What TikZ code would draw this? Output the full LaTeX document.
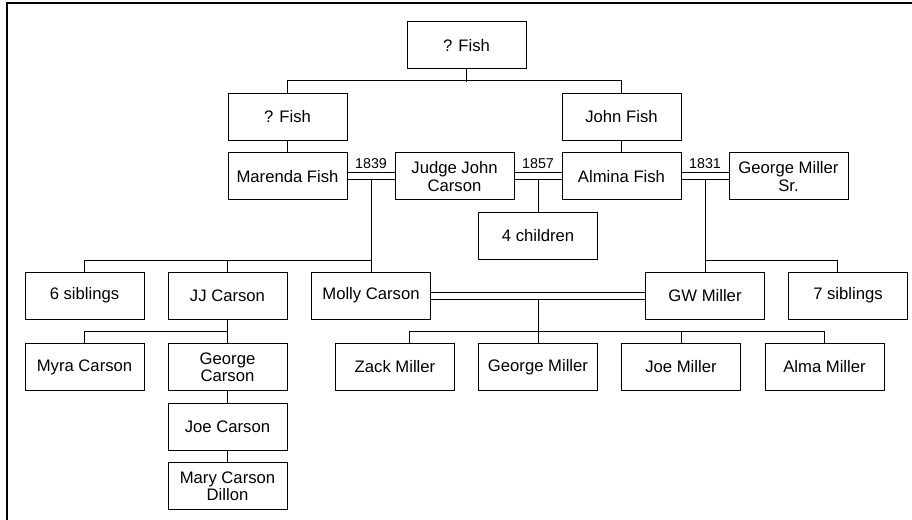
\documentclass[tikz,border=0pt]{standalone}
\usepackage{fontspec}
\setmainfont{Liberation Sans}
\usetikzlibrary{backgrounds}
\begin{document}
\begin{tikzpicture}[x=0.75pt, y=-0.75pt,
	pessoa/.style={draw, line width=0.75pt, fill=white, minimum width=89.25pt, minimum height=35.25pt, inner sep=1pt, align=center, font=\fontsize{12.5}{13}\selectfont},
	casal/.style={draw, line width=0.75pt, double, double distance=4.5pt},
	ano/.style={inner sep=0pt, font=\fontsize{10.7}{12}\selectfont},
	liga/.style={draw, line width=0.75pt}]
	\useasboundingbox (0,0) rectangle (912,520);

	%moldura
	\draw[line width=1.5pt] (6.5,520) -- (6.5,3.5) -- (912,3.5);

	%topo
	\node[pessoa] (avo) at (466.5,45.5) {? Fish};
	\node[pessoa] (fishE) at (287.5,117) {? Fish};
	\node[pessoa] (johnfish) at (621.5,117) {John Fish};

	%casais
	\node[pessoa] (marenda) at (287.5,176.5) {Marenda Fish};
	\node[pessoa] (judge) at (454.5,176.5) {Judge John\\Carson};
	\node[pessoa] (almina) at (621.5,176.5) {Almina Fish};
	\node[pessoa] (gmsr) at (788.5,176.5) {George Miller\\Sr.};
	\node[pessoa] (filhos4) at (538,235.5) {4 children};

	%geracao 3
	\node[pessoa] (sib6) at (84.5,295.5) {6 siblings};
	\node[pessoa] (jj) at (227.5,295.5) {JJ Carson};
	\node[pessoa] (molly) at (371,295.5) {Molly Carson};
	\node[pessoa] (gw) at (705,295.5) {GW Miller};
	\node[pessoa] (sib7) at (848,295.5) {7 siblings};

	%geracao 4
	\node[pessoa] (myra) at (84.5,367) {Myra Carson};
	\node[pessoa] (gcarson) at (227.5,367) {George\\Carson};
	\node[pessoa] (zack) at (395,367) {Zack Miller};
	\node[pessoa] (gmiller) at (538,367) {George Miller};
	\node[pessoa] (joem) at (681,367) {Joe Miller};
	\node[pessoa] (alma) at (824.5,367) {Alma Miller};
	\node[pessoa] (joec) at (227.5,426.5) {Joe Carson};
	\node[pessoa] (mary) at (227.5,486) {Mary Carson\\Dillon};

	\begin{scope}[on background layer]
	%ramo fish
	\draw[liga] (avo.south) -- ++(0,13);
	\draw[liga] (fishE.north) -- ++(0,-12) -| (johnfish.north);
	\draw[liga] (fishE) -- (marenda);
	\draw[liga] (johnfish) -- (almina);

	%casamentos
	\draw[casal] (marenda) -- node[ano, above=5.6pt] (a1839) {1839} coordinate (c1839) (judge);
	\draw[casal] (judge) -- node[ano, above=5.6pt] (a1857) {1857} coordinate (c1857) (almina);
	\draw[casal] (almina) -- node[ano, above=5.6pt] (a1831) {1831} coordinate (c1831) (gmsr);
	\draw[casal] (molly) -- coordinate (cmg) (gw);

	%filhos carson
	\draw[liga] ([yshift=-2.6pt]c1839) -- (molly.north);
	\draw[liga] (sib6.north) -- ++(0,-11) -| (molly.north);
	\draw[liga] (jj.north) -- ++(0,-11);
	\draw[liga] ([yshift=-2.6pt]c1857) -- (filhos4.north);

	%filhos miller
	\draw[liga] ([yshift=-2.6pt]c1831) -- (gw.north);
	\draw[liga] (gw.north) -- ++(0,-11) -| ([xshift=-8.25pt]sib7.north);
	\draw[liga] ([yshift=-2.6pt]cmg) -- (gmiller.north);
	\draw[liga] ([xshift=10.5pt]zack.north) -- ++(0,-12) -| (alma.north);
	\draw[liga] (joem.north) -- ++(0,-12);

	%ramo jj
	\draw[liga] (jj.south) -- (gcarson.north);
	\draw[liga] (myra.north) -- ++(0,-12) -| (jj.south);
	\draw[liga] (gcarson) -- (joec);
	\draw[liga] (joec) -- (mary);
	\end{scope}
\end{tikzpicture}
\end{document}
